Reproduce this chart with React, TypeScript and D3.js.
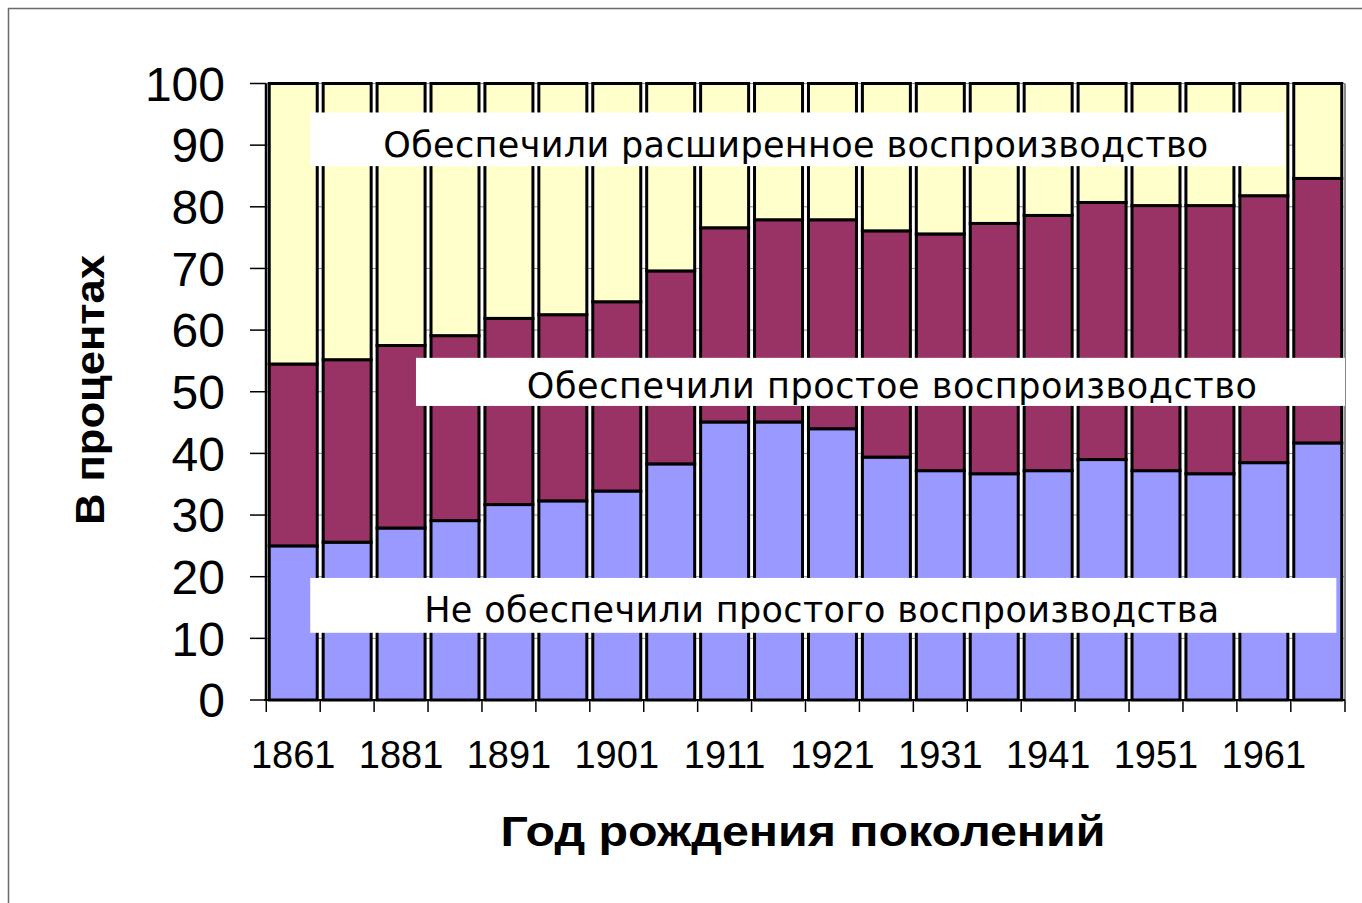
import React from 'react';
import * as d3 from 'd3';

// birth cohorts (only every other one is labelled on the axis)
const years = ['1861', '1871', '1881', '1886', '1891', '1896', '1901', '1906', '1911', '1916',
  '1921', '1926', '1931', '1936', '1941', '1946', '1951', '1956', '1961', '1966'];
const labelledYears = ['1861', '1881', '1891', '1901', '1911', '1921', '1931', '1941', '1951', '1961'];

// share of generation, %
const belowSimple = [25.0, 25.6, 27.9, 29.1, 31.7, 32.3, 33.9, 38.3, 45.1, 45.1,
  44.0, 39.4, 37.2, 36.7, 37.2, 39.0, 37.2, 36.7, 38.5, 41.7];
const simple = [29.5, 29.6, 29.6, 30.0, 30.2, 30.2, 30.7, 31.3, 31.5, 32.8,
  33.9, 36.7, 38.4, 40.6, 41.4, 41.7, 43.0, 43.5, 43.3, 42.9];
const extended = belowSimple.map((v, i) => +(100 - v - simple[i]).toFixed(1));

const yTicks = [0, 10, 20, 30, 40, 50, 60, 70, 80, 90, 100];

const seriesKeys = ['below', 'simple', 'extended'];
const seriesColors = ['#9999FF', '#993366', '#FFFFCC'];

// label boxes: x as fraction of plot width, y in % units
const notes = [
  { text: 'Обеспечили расширенное воспроизводство', x0: 0.041, x1: 0.944, cx: 0.491, top: 95.3, bottom: 86.6, base: 88.0, len: 825 },
  { text: 'Обеспечили простое воспроизводство', x0: 0.139, x1: 1.0, cx: 0.580, top: 55.5, bottom: 47.7, base: 49.0, len: 730 },
  { text: 'Не обеспечили простого воспроизводства', x0: 0.041, x1: 0.992, cx: 0.515, top: 19.8, bottom: 10.9, base: 12.7, len: 795 },
];

export default function App() {
  const W = 1362;
  const H = 903;
  const left = 266, right = 1345, top = 83.5, bottom = 700;

  const rows = years.map((y, i) => ({ year: y, below: belowSimple[i], simple: simple[i], extended: extended[i] }));
  const stacked = d3.stack<any>().keys(seriesKeys)(rows);

  const x = d3.scaleBand().domain(years).range([left, right]).paddingInner(0.11).paddingOuter(0.06);
  const y = d3.scaleLinear().domain([0, 100]).range([bottom, top]);
  const step = x.step();
  const boundaries = years.map((yr) => (x(yr) as number) - (step * x.paddingInner()) / 2);
  const pw = right - left;

  return (
    <svg width={W} height={H} style={{ position: 'absolute', left: 0, top: 0 }}
      fontFamily="'Liberation Sans', Arial, sans-serif">
      <rect x={0} y={0} width={W} height={H} fill="#fff" />
      <rect x={8.5} y={8.5} width={W + 10} height={H + 10} fill="none" stroke="#6a6a6a" strokeWidth={1.5} />

      {/* gridlines */}
      {yTicks.map((t) => (
        <line key={'g' + t} x1={left} x2={right} y1={y(t)} y2={y(t)} stroke="#8a8a8a" strokeWidth={1} />
      ))}
      <line x1={right} x2={right} y1={top} y2={bottom} stroke="#8a8a8a" strokeWidth={2} />

      {/* bars */}
      {stacked.map((s, si) => (
        <g key={s.key} fill={seriesColors[si]} stroke="#000" strokeWidth={3}>
          {s.map((d, i) => (
            <rect key={i} x={x(years[i])} y={y(d[1])} width={x.bandwidth()} height={y(d[0]) - y(d[1])} />
          ))}
        </g>
      ))}

      {/* annotation boxes */}
      {notes.map((n) => (
        <g key={n.text}>
          <rect x={left + n.x0 * pw} y={y(n.top)} width={(n.x1 - n.x0) * pw} height={y(n.bottom) - y(n.top)} fill="#fff" />
          <text x={left + n.cx * pw} y={y(n.base)} textAnchor="middle"
            fontSize={35} fill="#000" textLength={n.len} lengthAdjust="spacing"
            fontFamily="'DejaVu Sans', Verdana, sans-serif">{n.text}</text>
        </g>
      ))}

      {/* axes */}
      <line x1={left} x2={left} y1={top} y2={bottom} stroke="#000" strokeWidth={2.5} />
      <line x1={left - 2} x2={right} y1={bottom} y2={bottom} stroke="#000" strokeWidth={2} />
      {yTicks.map((t) => (
        <g key={'t' + t}>
          <line x1={250} x2={left} y1={y(t)} y2={y(t)} stroke="#000" strokeWidth={1.5} />
          <text x={225} y={y(t)} dy="0.36em" textAnchor="end" fontSize={48} fill="#000">{t}</text>
        </g>
      ))}
      {boundaries.concat([right]).map((b, i) => (
        <line key={'xt' + i} x1={b} x2={b} y1={bottom} y2={bottom + 12} stroke="#000" strokeWidth={1.5} />
      ))}
      {labelledYears.map((yr) => (
        <text key={yr} x={(x(yr) as number) + x.bandwidth() / 2} y={768} textAnchor="middle" fontSize={38} fill="#000">{yr}</text>
      ))}

      {/* titles */}
      <text transform={`translate(104, ${390}) rotate(-90)`} textAnchor="middle" fontSize={40} fontWeight="bold"
        textLength={270} lengthAdjust="spacingAndGlyphs" fill="#000">В процентах</text>
      <text x={803} y={846} textAnchor="middle" fontSize={42} fontWeight="bold"
        textLength={605} lengthAdjust="spacingAndGlyphs" fill="#000">Год рождения поколений</text>
    </svg>
  );
}
